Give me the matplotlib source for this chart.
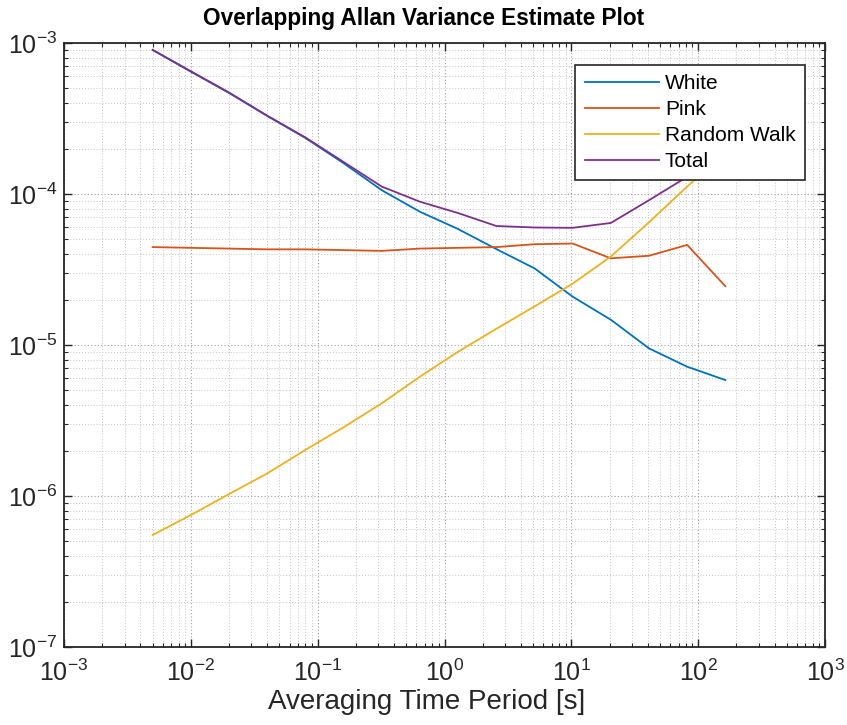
import matplotlib
matplotlib.use("Agg")
import matplotlib.pyplot as plt
from matplotlib.ticker import LogLocator, NullFormatter

plt.rcParams['font.family'] = ['Liberation Sans', 'DejaVu Sans']
plt.rcParams['mathtext.fontset'] = 'custom'
plt.rcParams['mathtext.rm'] = 'Liberation Sans'
plt.rcParams['mathtext.it'] = 'Liberation Sans:italic'
plt.rcParams['mathtext.bf'] = 'Liberation Sans:bold'
plt.rcParams['axes.unicode_minus'] = False

# Averaging times [s]
tau = [0.005, 0.01, 0.02, 0.04, 0.08, 0.16, 0.32, 0.64, 1.28, 2.56,
       5.12, 10.24, 20.48, 40.96, 81.92, 163.84]

white = [9.0e-4, 6.46e-4, 4.67e-4, 3.29e-4, 2.35e-4, 1.60e-4, 1.06e-4, 7.63e-5,
         5.86e-5, 4.32e-5, 3.22e-5, 2.09e-5, 1.47e-5, 9.5e-6, 7.18e-6, 5.86e-6]
pink = [4.45e-5, 4.4e-5, 4.35e-5, 4.3e-5, 4.3e-5, 4.25e-5, 4.2e-5, 4.35e-5,
        4.4e-5, 4.45e-5, 4.65e-5, 4.7e-5, 3.75e-5, 3.9e-5, 4.6e-5, 2.45e-5]
random_walk = [5.52e-7, 7.48e-7, 1.03e-6, 1.41e-6, 2.02e-6, 2.85e-6, 4.11e-6, 6.17e-6,
               9.03e-6, 1.28e-5, 1.80e-5, 2.55e-5, 3.85e-5, 6.5e-5, 1.12e-4, 1.9e-4]
total = [9.0e-4, 6.5e-4, 4.7e-4, 3.3e-4, 2.37e-4, 1.63e-4, 1.12e-4, 8.89e-5,
         7.48e-5, 6.14e-5, 6.0e-5, 5.97e-5, 6.43e-5, 9.1e-5, 1.30e-4, 2.0e-4]

labels = ['White', 'Pink', 'Random Walk', 'Total']
colors = ['#0072BD', '#D95319', '#EDB120', '#7E2F8E']

title = 'Overlapping Allan Variance Estimate Plot'
xlabel = 'Averaging Time Period [s]'

fig = plt.figure(figsize=(8.47, 7.25), dpi=100)
ax = fig.add_axes([64/847, 1-647/725, (825-64)/847, (647-43)/725])

for series, lab, c in zip([white, pink, random_walk, total], labels, colors):
    ax.loglog(tau, series, color=c, lw=1.3, label=lab)

ax.set_xlim(1e-3, 1e3)
ax.set_ylim(1e-7, 1e-3)

ax.xaxis.set_major_locator(LogLocator(base=10, numticks=20))
ax.yaxis.set_major_locator(LogLocator(base=10, numticks=20))
ax.xaxis.set_minor_locator(LogLocator(base=10, subs=range(2, 10), numticks=100))
ax.yaxis.set_minor_locator(LogLocator(base=10, subs=range(2, 10), numticks=100))
ax.xaxis.set_minor_formatter(NullFormatter())
ax.yaxis.set_minor_formatter(NullFormatter())

ax.grid(True, which='major', color='#a0a0a0', ls=(0, (1, 2)), lw=0.8)
ax.grid(True, which='minor', color='#c4c4c4', ls=(0, (1, 2)), lw=0.7)

ax.tick_params(which='both', direction='in', top=True, right=True, colors='#262626',
               labelcolor='#262626')
ax.tick_params(which='major', length=6, width=1.0, labelsize=18)
ax.tick_params(axis='x', which='major', pad=9)
ax.tick_params(axis='y', which='major', pad=5)
ax.tick_params(which='minor', length=3, width=0.8)
for s in ax.spines.values():
    s.set_color('#262626')
    s.set_linewidth(1.3)

ax.set_xlabel(xlabel, fontsize=20, color='#262626', labelpad=2, x=0.477)
ax.set_title(title, fontsize=16.3, fontweight='bold', pad=13, x=0.473)

leg = ax.legend(loc='upper right', bbox_to_anchor=(0.9737, 0.9636), fontsize=15,
                fancybox=False, framealpha=1, edgecolor='#262626', handlelength=3.55,
                borderaxespad=0, labelspacing=0.33, handletextpad=0.3, borderpad=0.45)
leg.get_frame().set_linewidth(1.2)

fig.savefig('out.png', dpi=100)
